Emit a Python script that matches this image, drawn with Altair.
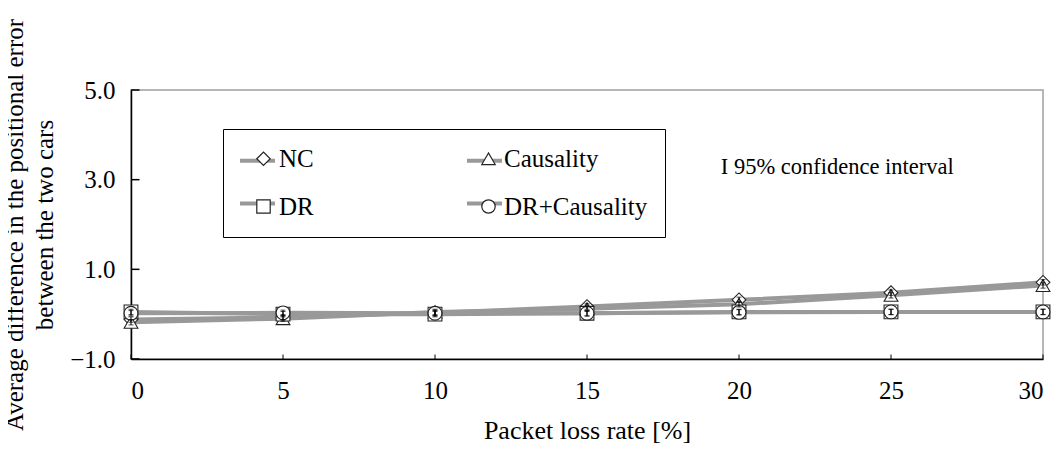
import altair as alt
import pandas as pd

loss = [0, 5, 10, 15, 20, 25, 30]
series = ["NC", "Causality", "DR", "DR+Causality"]
nc = [-0.12, -0.07, 0.03, 0.17, 0.32, 0.48, 0.71]
causality = [-0.18, -0.10, 0.05, 0.12, 0.22, 0.42, 0.64]
dr = [0.05, 0.00, 0.00, 0.02, 0.05, 0.05, 0.05]
dr_causality = [0.02, 0.03, 0.02, 0.02, 0.04, 0.05, 0.05]
ci_half = [0.06, 0.06, 0.06, 0.06, 0.06, 0.06, 0.06]
shapes = ["diamond", "triangle-up", "square", "circle"]

x_tick_vals = [0, 5, 10, 15, 20, 25, 30]
y_tick_vals = [-1, 1, 3, 5]
note_x = [19.4]
note_y = [3.29]
note_text = ["I 95% confidence interval"]

rows = []
for name, vals in zip(series, [nc, causality, dr, dr_causality]):
    for xv, yv, c in zip(loss, vals, ci_half):
        rows.append({"loss": xv, "value": yv, "lo": yv - c, "hi": yv + c,
                     "series": name, "series2": name})
df = pd.DataFrame(rows)

FONT = "Liberation Serif"
xs = alt.Scale(domain=[0, 30], nice=False, zero=False)
ys = alt.Scale(domain=[-1, 5], nice=False, zero=False)

base = alt.Chart(df)

X = alt.X("loss:Q", scale=xs,
          axis=alt.Axis(values=x_tick_vals, title="Packet loss rate [%]", tickSize=0,
                        labelPadding=19, titlePadding=14, grid=False, titleFontSize=26,
                        domainColor="black", domainWidth=1.5))
Y = alt.Y("value:Q", scale=ys,
          axis=alt.Axis(values=y_tick_vals, format=".1f", tickSize=0,
                        title=["Average difference in the positional error",
                               "between the two cars"],
                        labelPadding=16, titlePadding=12, grid=False,
                        titleLineHeight=30, titleFontSize=25,
                        domainColor="black", domainWidth=1.5))

# legend of gray line segments (labels hidden); domain given explicitly
lines = base.mark_line(strokeWidth=4, color="#999999").encode(
    x=X, y=Y,
    color=alt.Color("series:N",
                    scale=alt.Scale(domain=series, range=["#999999"] * 4),
                    legend=alt.Legend(orient="none", legendX=107, legendY=51,
                                      columns=2, title=None,
                                      symbolType="stroke", symbolSize=1225,
                                      symbolStrokeWidth=4, symbolStrokeColor="#999999",
                                      labelOpacity=0, labelOffset=2,
                                      labelFont=FONT, labelFontSize=25,
                                      columnPadding=145, rowPadding=10,
                                      padding=0,
                                      direction="horizontal")),
    detail="series:N",
)

# legend of marker shapes with the labels and the box; domain from data (sorted)
points = base.mark_point(size=190, filled=False, fill="white", fillOpacity=1,
                         color="#222222", strokeWidth=1.1, opacity=1).encode(
    x="loss:Q", y="value:Q",
    shape=alt.Shape("series2:N", sort=series,
                    scale=alt.Scale(range=shapes),
                    legend=alt.Legend(orient="none", legendX=92, legendY=39,
                                      columns=2, title=None,
                                      symbolSize=180, symbolOffset=11,
                                      symbolStrokeWidth=1.2,
                                      labelOffset=3,
                                      labelFont=FONT, labelFontSize=25,
                                      labelColor="black",
                                      columnPadding=151, rowPadding=22,
                                      padding=17, strokeColor="black",
                                      direction="horizontal")),
)

err = base.mark_rule(color="black", strokeWidth=1).encode(
    x="loss:Q", y="lo:Q", y2="hi:Q")
err_lo = base.mark_tick(color="black", thickness=1, size=5, orient="horizontal").encode(
    x="loss:Q", y="lo:Q")
err_hi = base.mark_tick(color="black", thickness=1, size=5, orient="horizontal").encode(
    x="loss:Q", y="hi:Q")

xt = pd.DataFrame({"x": x_tick_vals, "y": [-1] * len(x_tick_vals),
                   "y2": [-0.9] * len(x_tick_vals)})
xticks = alt.Chart(xt).mark_rule(color="black", strokeWidth=1).encode(
    x="x:Q", y="y:Q", y2="y2:Q")
yt = pd.DataFrame({"y": y_tick_vals, "x": [0] * len(y_tick_vals),
                   "x2": [0.28] * len(y_tick_vals)})
yticks = alt.Chart(yt).mark_rule(color="black", strokeWidth=1.5).encode(
    y="y:Q", x="x:Q", x2="x2:Q")

note = alt.Chart(pd.DataFrame({"x": note_x, "y": note_y, "t": note_text})).mark_text(
    align="left", baseline="middle", font=FONT, fontSize=22.5, color="black").encode(
    x="x:Q", y="y:Q", text="t:N")

chart = alt.layer(lines, points, err, err_lo, err_hi, xticks, yticks, note).properties(
    width=912, height=269,
    background="white",
    autosize=alt.AutoSizeParams(type="none"),
    padding={"left": 123, "top": 82, "right": 10, "bottom": 90},
).resolve_scale(color="independent", shape="independent").configure_view(
    stroke="#a0a0a0", strokeWidth=1.5
).configure_axis(
    labelFont=FONT, labelFontSize=25, labelColor="black",
    titleFont=FONT, titleFontSize=24, titleColor="black", titleFontWeight="normal",
)

chart.save("out.html", embed_options={"renderer": "svg", "actions": False})
